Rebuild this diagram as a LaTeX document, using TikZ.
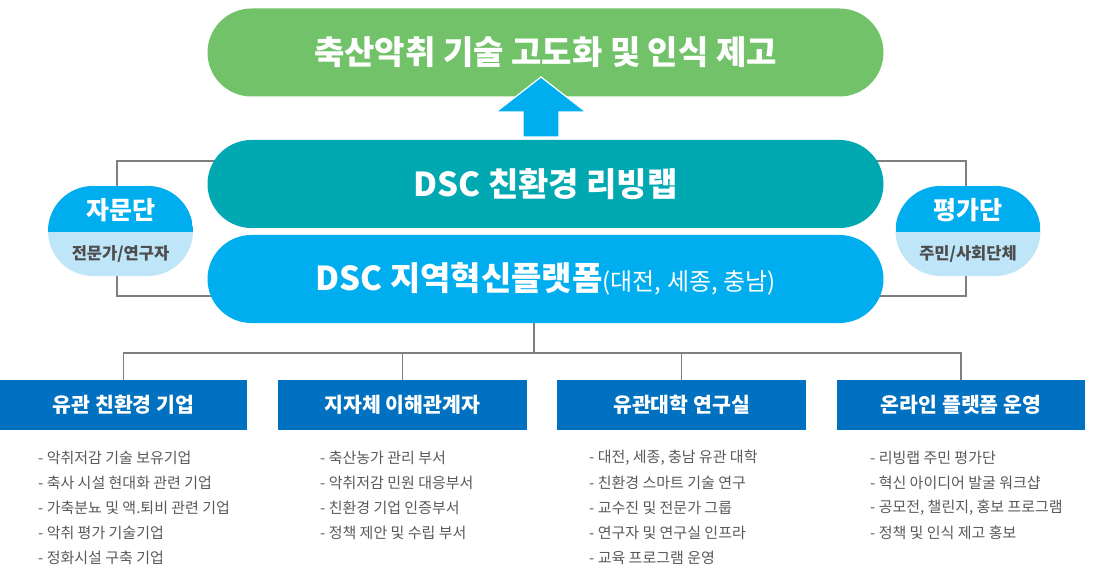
\documentclass[tikz,border=0pt]{standalone}
\usepackage{fontspec}
\setmainfont{Noto Sans CJK KR}
\usetikzlibrary{calc}
\definecolor{cgreen}{HTML}{72C26A}
\definecolor{cteal}{HTML}{00A9B1}
\definecolor{cblue}{HTML}{00AEEF}
\definecolor{clight}{HTML}{BFE5F8}
\definecolor{cbox}{HTML}{0070C0}
\definecolor{cline}{HTML}{7F7F7F}
\definecolor{ctext}{HTML}{595959}
\definecolor{csub}{HTML}{4D4D4D}
\pgfdeclarelayer{bg}
\pgfsetlayers{bg,main}
\begin{document}
\begin{tikzpicture}[x=1pt,y=-1pt,
  pill/.style={rectangle, rounded corners=44pt, minimum width=676pt, minimum height=88pt, inner sep=0pt, text=white, font=\bfseries\fontsize{33}{38}\selectfont},
  sidepill/.style={rectangle, rounded corners=45pt, minimum width=145pt, minimum height=90pt, inner sep=0pt, fill=clight,
    path picture={\fill[cblue, sharp corners] (path picture bounding box.north west) rectangle ([yshift=-1pt]path picture bounding box.east);}},
  sidetitle/.style={text=white, inner sep=0pt, font=\bfseries\fontsize{25}{28}\selectfont},
  sidesub/.style={text=csub, inner sep=0pt, font=\bfseries\fontsize{16.5}{19}\selectfont},
  groupbox/.style={rectangle, fill=cbox, minimum width=248pt, minimum height=50pt, inner sep=0pt, text=white, font=\bfseries\fontsize{20.5}{24}\selectfont},
  item/.style={anchor=west, inner sep=0pt, text=ctext, font=\fontsize{15}{18}\selectfont},
  conn/.style={draw=cline, line width=1.5pt},
  uparrow/.style={fill=cblue, draw=white, line width=1.2pt, line join=miter}
]
\useasboundingbox (0,0) rectangle (1095,580);

% main pills
\node[pill, fill=cgreen] (goal) at (545.5,52.5) {축산악취 기술 고도화 및 인식 제고};
\node[pill, fill=cteal] (lab) at (545.5,184) {DSC 친환경 리빙랩};
\node[pill, fill=cblue] (plat) at (545.5,279) {DSC 지역혁신플랫폼{\mdseries\fontsize{24}{28}\selectfont(대전, 세종, 충남)}};

% arrow
\path[uparrow] (541,77) -- (586,112) -- (559,112) -- (559,137) -- (523,137) -- (523,112) -- (496,112) -- cycle;

% side pills
\node[sidepill] (adv) at (120.5,231) {};
\node[sidetitle] (advt) at (120.5,210) {자문단};
\node[sidesub] (advs) at (120.5,254) {전문가/연구자};
\node[sidepill] (eval) at (968,231) {};
\node[sidetitle] (evalt) at (968,210) {평가단};
\node[sidesub] (evals) at (968,254) {주민/사회단체};

% group boxes
\node[groupbox, minimum width=247pt] (b1) at (123.5,405) {유관 친환경 기업};
\node[groupbox, minimum width=249pt] (b2) at (402.5,405) {지자체 이해관계자};
\node[groupbox, minimum width=249pt] (b3) at (681.5,405) {유관대학 연구실};
\node[groupbox, minimum width=248pt] (b4) at (961,405) {온라인 플랫폼 운영};

% item lists
\foreach \t [count=\i] in {{- 악취저감 기술 보유기업},{- 축사 시설 현대화 관련 기업},{- 가축분뇨 및 액.퇴비 관련 기업},{- 악취 평가 기술기업},{- 정화시설 구축 기업}}
  \node[item] (a-\i) at (38,{458+25*(\i-1)}) {\t};
\foreach \t [count=\i] in {{- 축산농가 관리 부서},{- 악취저감 민원 대응부서},{- 친환경 기업 인증부서},{- 정책 제안 및 수립 부서}}
  \node[item] (c-\i) at (320,{458+25*(\i-1)}) {\t};
\foreach \t [count=\i] in {{- 대전, 세종, 충남 유관 대학},{- 친환경 스마트 기술 연구},{- 교수진 및 전문가 그룹},{- 연구자 및 연구실 인프라},{- 교육 프로그램 운영}}
  \node[item] (u-\i) at (589,{458+25*(\i-1)}) {\t};
\foreach \t [count=\i] in {{- 리빙랩 주민 평가단},{- 혁신 아이디어 발굴 워크샵},{- 공모전, 챌린지, 홍보 프로그램},{- 정책 및 인식 제고 홍보}}
  \node[item] (o-\i) at (870,{458+25*(\i-1)}) {\t};

% connectors
\coordinate (lt) at (117,161);
\coordinate (lb) at (117,296);
\coordinate (rt) at (966,161);
\coordinate (rb) at (966,296);
\coordinate (trunk) at (534,353);
\begin{pgfonlayer}{bg}
  \draw[conn] ($(lab.west)+(30,-23)$) -- (lt) -- (lb) -- ($(plat.west)+(30,17)$);
  \draw[conn] ($(lab.east)+(-30,-23)$) -- (rt) -- (rb) -- ($(plat.east)+(-30,17)$);
  \draw[conn] ($(plat.south)+(-11.5,-2)$) -- (trunk);
  \draw[conn] (b1.north) |- (trunk) -| (b4.north);
  \draw[conn] (b2.north) -- (b2.north |- trunk);
  \draw[conn] (b3.north) -- (b3.north |- trunk);
\end{pgfonlayer}
\end{tikzpicture}
\end{document}
